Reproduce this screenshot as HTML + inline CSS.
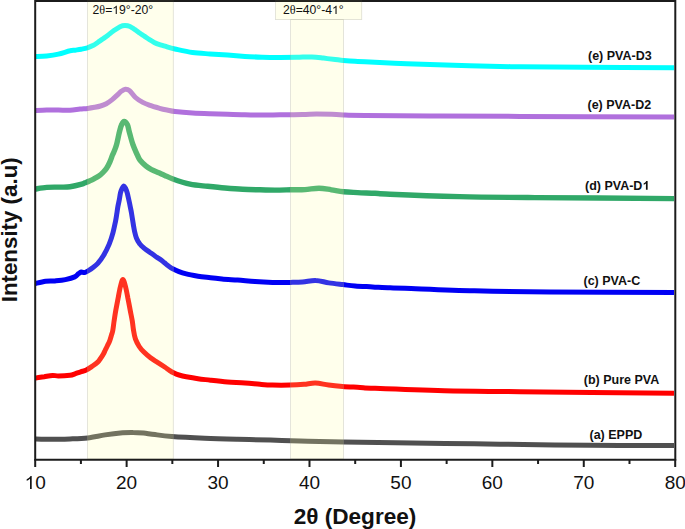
<!DOCTYPE html>
<html><head><meta charset="utf-8"><style>
html,body{margin:0;padding:0;background:#fff;}
svg{display:block;}
text{font-family:"Liberation Sans",sans-serif;fill:#111;}
.tk{font-size:19px;}
.lb{font-size:12.5px;font-weight:bold;}
.bl{font-size:12.2px;}
.one{fill-opacity:0;}
</style></head><body>
<svg width="685" height="529" viewBox="0 0 685 529">
<rect width="685" height="529" fill="#fff"/>
<clipPath id="pc"><rect x="36" y="1.5" width="638" height="457"/></clipPath>
<g clip-path="url(#pc)">
<path d="M35.0,438.9 C37.9,439.0 46.7,439.3 52.5,439.3 C58.3,439.3 64.2,439.1 70.0,438.9 C75.8,438.7 81.8,438.6 87.6,437.9 C93.4,437.2 99.3,435.8 105.1,434.9 C110.9,434.0 117.9,433.2 122.6,432.8 C127.3,432.4 129.6,432.3 133.1,432.4 C136.6,432.4 139.9,432.7 143.6,433.1 C147.2,433.5 150.3,434.1 155.0,434.6 C159.7,435.2 163.6,435.8 171.9,436.4 C180.2,437.0 193.8,437.7 204.7,438.2 C215.6,438.7 226.7,439.0 237.6,439.3 C248.5,439.6 260.0,439.8 270.4,440.1 C280.8,440.4 287.9,440.7 300.0,441.0 C312.1,441.3 319.0,441.5 343.2,441.9 C367.4,442.3 418.9,443.0 445.0,443.4 C471.1,443.8 475.8,443.9 500.0,444.2 C524.2,444.5 561.0,445.1 590.0,445.3 C619.0,445.5 660.0,445.6 674.0,445.6" fill="none" stroke="#505050" stroke-width="5" stroke-linejoin="round" stroke-linecap="butt"/>
<path d="M35.0,378.1 C36.5,377.9 41.4,377.1 44.3,376.7 C47.2,376.2 50.1,375.5 52.5,375.4 C54.9,375.3 55.5,375.9 58.4,375.9 C61.3,375.9 67.2,375.6 70.0,375.3 C72.8,375.0 73.2,374.4 75.0,373.8 C76.8,373.2 78.8,372.4 80.7,371.8 C82.6,371.2 84.4,371.0 86.3,370.1 C88.2,369.2 90.1,367.7 92.0,366.4 C93.9,365.1 96.3,363.5 97.7,362.2 C99.1,360.9 99.5,359.9 100.5,358.5 C101.5,357.1 102.6,355.4 103.4,354.0 C104.2,352.6 104.6,351.4 105.3,350.0 C106.0,348.6 106.7,347.3 107.4,345.8 C108.1,344.3 109.0,342.6 109.7,340.8 C110.4,339.0 111.0,336.7 111.5,335.0 C112.0,333.3 112.4,332.7 112.8,330.4 C113.2,328.1 113.6,324.4 114.1,321.0 C114.6,317.6 115.2,313.5 115.9,309.7 C116.6,305.9 117.4,302.1 118.1,298.3 C118.8,294.5 119.5,290.1 120.3,287.0 C121.1,283.9 122.0,279.6 122.9,279.6 C123.8,279.6 124.8,283.9 125.6,287.0 C126.4,290.1 127.2,294.5 127.9,298.3 C128.7,302.1 129.4,306.0 130.1,309.7 C130.8,313.4 131.6,317.2 132.2,320.5 C132.8,323.8 132.9,326.4 133.4,329.5 C133.9,332.6 134.4,336.1 135.4,338.9 C136.4,341.7 137.8,344.3 139.2,346.5 C140.6,348.7 142.0,350.2 143.9,352.1 C145.8,354.0 148.3,356.1 150.5,357.8 C152.7,359.5 154.7,360.6 157.1,362.1 C159.5,363.6 162.6,365.6 164.7,367.0 C166.8,368.4 167.9,369.3 169.4,370.3 C170.9,371.3 171.9,372.0 173.5,372.8 C175.1,373.6 176.9,374.4 179.0,375.0 C181.1,375.6 183.1,376.1 186.3,376.7 C189.5,377.3 194.0,378.1 198.0,378.7 C202.0,379.3 205.6,379.6 210.5,380.2 C215.4,380.8 221.8,381.6 227.6,382.0 C233.4,382.4 239.7,382.5 245.1,382.9 C250.5,383.3 255.4,383.9 260.0,384.3 C264.6,384.7 267.5,385.0 272.5,385.1 C277.5,385.2 284.8,385.2 290.0,385.1 C295.2,385.0 299.8,384.7 304.0,384.3 C308.2,383.9 311.3,382.9 315.4,383.0 C319.5,383.1 324.1,384.5 328.6,385.1 C333.1,385.7 337.4,386.1 342.6,386.5 C347.9,386.9 354.7,387.1 360.1,387.4 C365.5,387.7 360.9,387.7 375.0,388.3 C389.1,388.9 420.2,390.2 444.4,390.8 C468.6,391.4 481.7,391.3 520.0,391.7 C558.3,392.1 648.3,393.0 674.0,393.3" fill="none" stroke="#ff0000" stroke-width="5" stroke-linejoin="round" stroke-linecap="butt"/>
<path d="M35.0,283.6 C36.8,283.2 42.3,281.8 45.6,281.3 C48.9,280.9 51.5,281.2 54.8,280.9 C58.1,280.6 62.1,280.3 65.4,279.6 C68.7,278.9 72.5,277.9 74.7,276.9 C76.9,275.9 77.5,274.4 78.6,273.6 C79.7,272.8 80.3,272.2 81.3,272.0 C82.3,271.8 83.5,272.8 84.6,272.6 C85.7,272.4 86.5,271.9 87.9,271.0 C89.3,270.1 91.3,268.8 93.0,267.5 C94.7,266.2 96.0,265.4 97.8,263.4 C99.5,261.4 101.6,258.7 103.5,255.5 C105.4,252.3 107.6,247.9 109.2,244.1 C110.8,240.3 112.0,236.5 113.0,232.7 C114.0,228.9 114.8,224.7 115.5,221.4 C116.2,218.1 116.5,215.6 116.9,213.1 C117.3,210.6 117.5,208.7 117.9,206.5 C118.3,204.3 118.9,202.0 119.3,199.8 C119.7,197.6 120.0,195.1 120.4,193.2 C120.9,191.3 121.4,189.8 122.0,188.6 C122.6,187.4 123.3,186.0 123.9,186.0 C124.5,186.0 125.1,187.4 125.7,188.6 C126.3,189.8 126.8,191.3 127.3,193.2 C127.8,195.1 128.3,197.6 128.8,199.8 C129.3,202.0 129.8,204.3 130.2,206.5 C130.6,208.7 131.0,210.0 131.5,213.1 C132.0,216.2 132.9,222.0 133.4,225.0 C133.9,228.0 134.0,228.8 134.5,231.0 C135.0,233.2 135.5,235.8 136.4,237.9 C137.3,240.1 138.5,242.2 139.8,243.9 C141.1,245.7 142.8,247.0 144.4,248.4 C146.1,249.8 147.9,250.9 149.7,252.2 C151.5,253.5 153.2,254.8 155.0,256.0 C156.8,257.2 158.6,258.3 160.2,259.4 C161.8,260.5 163.1,261.7 164.5,262.8 C165.9,263.9 167.1,265.0 168.5,266.0 C169.9,267.0 170.9,267.8 172.7,268.7 C174.4,269.6 176.7,270.7 179.0,271.6 C181.3,272.5 183.1,273.1 186.3,273.9 C189.5,274.7 194.0,275.5 198.0,276.2 C202.0,276.9 206.5,277.3 210.5,277.8 C214.5,278.3 217.5,278.6 222.0,279.0 C226.5,279.4 232.1,279.7 237.6,280.1 C243.1,280.5 249.2,281.1 255.0,281.5 C260.8,281.9 266.8,282.2 272.6,282.4 C278.5,282.5 285.1,282.5 290.1,282.4 C295.1,282.3 298.2,282.3 302.5,282.0 C306.8,281.7 311.3,280.2 315.7,280.4 C320.1,280.5 324.3,282.2 328.8,282.9 C333.3,283.6 338.4,284.1 342.8,284.6 C347.2,285.1 350.1,285.6 355.1,286.0 C360.1,286.4 366.8,286.6 372.6,286.9 C378.4,287.2 384.7,287.6 390.1,287.8 C395.5,288.0 390.9,287.8 405.0,288.3 C419.1,288.8 450.2,290.2 474.4,290.8 C498.6,291.4 516.7,291.8 550.0,292.1 C583.3,292.4 653.3,292.4 674.0,292.5" fill="none" stroke="#0000f4" stroke-width="5" stroke-linejoin="round" stroke-linecap="butt"/>
<path d="M35.0,189.1 C37.0,188.8 42.8,187.7 46.7,187.4 C50.6,187.1 54.5,187.2 58.4,187.1 C62.3,187.0 66.1,187.3 70.0,186.8 C73.9,186.3 79.2,184.9 81.7,184.2 C84.2,183.5 83.7,183.3 85.0,182.8 C86.3,182.3 88.0,181.7 89.5,181.0 C91.0,180.3 92.3,179.7 93.9,178.8 C95.5,177.9 97.7,176.7 99.2,175.7 C100.7,174.7 101.6,173.8 102.8,172.6 C104.0,171.4 105.2,170.4 106.4,168.6 C107.6,166.8 108.9,164.2 109.9,161.9 C110.9,159.6 111.8,156.7 112.6,154.8 C113.4,152.9 113.9,152.0 114.6,150.3 C115.3,148.6 116.0,146.6 116.6,144.5 C117.2,142.4 117.6,140.1 118.1,137.9 C118.6,135.7 119.0,133.4 119.6,131.2 C120.2,129.0 120.8,126.4 121.6,124.8 C122.3,123.2 123.1,121.4 124.1,121.4 C125.1,121.4 126.6,123.0 127.4,124.6 C128.2,126.2 128.5,129.0 129.1,131.2 C129.7,133.4 130.3,135.7 130.9,137.9 C131.5,140.1 132.1,142.3 132.9,144.5 C133.7,146.7 134.8,149.3 135.6,151.1 C136.4,152.9 136.8,154.0 137.6,155.5 C138.3,157.0 138.7,158.5 140.1,160.2 C141.5,161.9 143.9,164.3 145.8,165.9 C147.7,167.5 149.4,168.6 151.5,169.7 C153.6,170.8 155.9,171.6 158.1,172.5 C160.3,173.4 162.3,174.4 164.7,175.4 C167.1,176.4 168.1,177.2 172.3,178.7 C176.5,180.2 184.1,182.9 190.0,184.2 C195.9,185.5 201.8,185.7 207.6,186.3 C213.4,186.9 219.2,187.5 225.0,188.0 C230.8,188.5 236.8,189.0 242.6,189.3 C248.4,189.6 254.6,189.7 260.0,189.8 C265.4,189.9 269.8,190.1 275.0,190.1 C280.2,190.1 286.0,189.9 291.0,189.8 C296.0,189.7 300.3,189.9 305.0,189.6 C309.7,189.3 314.6,188.2 319.0,188.2 C323.4,188.2 327.2,189.2 331.3,189.8 C335.4,190.4 339.2,191.2 343.6,191.7 C348.0,192.2 352.4,192.3 357.6,192.6 C362.9,192.9 369.7,193.0 375.1,193.3 C380.5,193.6 375.9,193.6 390.0,194.2 C404.1,194.8 435.2,196.0 459.4,196.6 C483.6,197.2 499.2,197.3 535.0,197.6 C570.8,197.9 650.8,198.4 674.0,198.6" fill="none" stroke="#30a868" stroke-width="5.4" stroke-linejoin="round" stroke-linecap="butt"/>
<path d="M35.0,110.6 C37.0,110.5 42.8,110.2 46.7,110.1 C50.6,110.0 54.5,110.1 58.4,110.1 C62.3,110.1 66.4,110.4 70.0,110.2 C73.6,110.0 77.1,109.3 80.0,109.0 C82.9,108.7 85.2,108.7 87.6,108.4 C90.0,108.1 92.4,107.7 94.6,107.3 C96.8,106.9 98.5,106.6 100.5,106.0 C102.5,105.4 104.3,104.8 106.3,103.7 C108.2,102.6 110.3,101.1 112.2,99.6 C114.1,98.1 115.9,96.3 117.4,94.9 C118.9,93.5 119.9,92.2 121.2,91.3 C122.5,90.4 123.9,89.4 125.3,89.3 C126.7,89.2 127.8,89.2 129.5,90.6 C131.2,92.0 133.3,95.5 135.5,97.5 C137.7,99.5 140.4,101.1 142.8,102.4 C145.2,103.7 147.3,104.4 150.1,105.4 C152.9,106.4 156.8,107.5 159.6,108.3 C162.4,109.1 164.4,109.5 167.0,110.0 C169.6,110.5 170.8,111.1 175.0,111.6 C179.2,112.1 186.7,112.7 192.5,113.0 C198.3,113.3 204.2,113.5 210.0,113.7 C215.8,113.9 221.8,114.1 227.6,114.3 C233.4,114.5 239.2,114.7 245.0,114.8 C250.8,114.9 256.8,115.1 262.6,115.1 C268.4,115.1 273.4,114.9 280.0,114.8 C286.6,114.7 296.4,114.8 302.5,114.6 C308.6,114.4 311.6,114.0 316.5,113.9 C321.4,113.9 327.2,114.1 331.7,114.3 C336.2,114.5 337.8,114.7 343.4,114.9 C348.9,115.1 350.6,115.2 365.0,115.4 C379.4,115.6 404.2,115.7 430.0,115.9 C455.8,116.1 479.3,116.2 520.0,116.4 C560.7,116.6 648.3,116.9 674.0,117.0" fill="none" stroke="#b070dd" stroke-width="5" stroke-linejoin="round" stroke-linecap="butt"/>
<path d="M35.0,56.5 C37.0,56.4 42.8,56.3 46.7,55.9 C50.6,55.5 54.5,55.0 58.4,54.1 C62.3,53.2 67.2,51.4 70.0,50.8 C72.8,50.1 73.2,50.5 75.0,50.2 C76.8,49.9 79.0,49.6 81.1,49.2 C83.1,48.8 85.2,48.5 87.3,47.9 C89.3,47.2 91.6,46.2 93.4,45.3 C95.2,44.3 96.4,43.3 98.0,42.2 C99.6,41.1 101.3,40.0 103.0,38.8 C104.7,37.6 106.3,36.5 108.0,35.2 C109.7,34.0 111.0,32.7 113.0,31.3 C115.0,29.9 118.0,27.6 120.0,26.7 C122.0,25.8 123.3,25.6 125.0,25.6 C126.7,25.6 128.3,25.8 130.0,26.5 C131.7,27.2 133.3,28.6 135.0,29.7 C136.7,30.8 138.4,32.2 140.0,33.3 C141.6,34.4 143.1,35.3 144.7,36.4 C146.3,37.5 147.9,38.7 149.5,39.7 C151.1,40.7 152.6,41.6 154.2,42.4 C155.8,43.2 157.1,43.8 158.9,44.4 C160.7,45.0 162.3,45.4 165.0,46.2 C167.7,47.0 170.4,48.0 175.0,49.0 C179.6,50.0 186.7,51.7 192.5,52.5 C198.3,53.3 204.2,53.5 210.0,53.9 C215.8,54.3 221.8,54.7 227.6,55.1 C233.4,55.5 239.2,56.0 245.0,56.4 C250.8,56.8 256.8,57.0 262.6,57.2 C268.4,57.4 274.3,57.4 280.0,57.4 C285.7,57.4 291.4,57.4 296.7,57.3 C302.0,57.2 307.4,56.8 311.9,56.9 C316.4,57.0 319.6,57.6 323.5,58.1 C327.4,58.6 331.9,59.2 335.2,59.6 C338.5,60.0 340.1,60.1 343.4,60.4 C346.7,60.7 351.4,61.1 355.0,61.3 C358.6,61.5 356.4,61.3 365.0,61.7 C373.6,62.1 391.9,63.1 406.7,63.7 C421.4,64.3 437.9,64.8 453.5,65.3 C469.1,65.8 488.9,66.3 500.0,66.5 C511.1,66.7 505.8,66.6 520.0,66.7 C534.2,66.8 559.3,67.1 585.0,67.3 C610.7,67.5 659.2,67.7 674.0,67.8" fill="none" stroke="#00ffff" stroke-width="5" stroke-linejoin="round" stroke-linecap="butt"/>

</g>
<line x1="35" y1="1" x2="676" y2="1" stroke="#1c1c1c" stroke-width="2.2"/>
<rect x="87.6" y="0" width="85.7" height="459" fill="rgba(255,255,160,0.2)" stroke="rgba(160,160,145,0.35)" stroke-width="0.8"/>
<rect x="290.6" y="19.6" width="52.8" height="439.4" fill="rgba(255,255,160,0.2)" stroke="rgba(160,160,145,0.35)" stroke-width="0.8"/>
<rect x="275.5" y="0" width="86.2" height="19.6" fill="rgba(255,255,160,0.2)" stroke="rgba(160,160,145,0.35)" stroke-width="0.8"/>
<line x1="35" y1="1" x2="676" y2="1" stroke="#1c1c1c" stroke-opacity="0.8" stroke-width="2.2"/>
<text x="92.5" y="14.1" class="bl">2<tspan style="font-family:'Liberation Serif'">θ</tspan>=<tspan class="one">1</tspan>9°-20°</text>
<text x="283" y="14.1" class="bl">2<tspan style="font-family:'Liberation Serif'">θ</tspan>=40°-4<tspan class="one">1</tspan>°</text>
<text x="588" y="60" class="lb">(e) PVA-D3</text>
<text x="587.5" y="109.3" class="lb">(e) PVA-D2</text>
<text x="585" y="189.7" class="lb">(d) PVA-D<tspan class="one">1</tspan></text>
<text x="583.5" y="285.4" class="lb">(c) PVA-C</text>
<text x="583.8" y="383.8" class="lb">(b) Pure PVA</text>
<text x="589.5" y="439" class="lb">(a) EPPD</text>
<path d="M35.2,0 V459.8 H675.3 V0" fill="none" stroke="#1c1c1c" stroke-width="2"/>
<line x1="35.20" y1="459" x2="35.20" y2="467" stroke="#1c1c1c" stroke-width="2"/><line x1="80.91" y1="459" x2="80.91" y2="464" stroke="#1c1c1c" stroke-width="2"/><line x1="126.63" y1="459" x2="126.63" y2="467" stroke="#1c1c1c" stroke-width="2"/><line x1="172.34" y1="459" x2="172.34" y2="464" stroke="#1c1c1c" stroke-width="2"/><line x1="218.06" y1="459" x2="218.06" y2="467" stroke="#1c1c1c" stroke-width="2"/><line x1="263.77" y1="459" x2="263.77" y2="464" stroke="#1c1c1c" stroke-width="2"/><line x1="309.49" y1="459" x2="309.49" y2="467" stroke="#1c1c1c" stroke-width="2"/><line x1="355.20" y1="459" x2="355.20" y2="464" stroke="#1c1c1c" stroke-width="2"/><line x1="400.91" y1="459" x2="400.91" y2="467" stroke="#1c1c1c" stroke-width="2"/><line x1="446.63" y1="459" x2="446.63" y2="464" stroke="#1c1c1c" stroke-width="2"/><line x1="492.34" y1="459" x2="492.34" y2="467" stroke="#1c1c1c" stroke-width="2"/><line x1="538.06" y1="459" x2="538.06" y2="464" stroke="#1c1c1c" stroke-width="2"/><line x1="583.77" y1="459" x2="583.77" y2="467" stroke="#1c1c1c" stroke-width="2"/><line x1="629.49" y1="459" x2="629.49" y2="464" stroke="#1c1c1c" stroke-width="2"/><line x1="675.20" y1="459" x2="675.20" y2="467" stroke="#1c1c1c" stroke-width="2"/>
<text x="35.20" y="489" text-anchor="middle" class="tk"><tspan class="one">1</tspan>0</text><text x="126.63" y="489" text-anchor="middle" class="tk">20</text><text x="218.06" y="489" text-anchor="middle" class="tk">30</text><text x="309.49" y="489" text-anchor="middle" class="tk">40</text><text x="400.91" y="489" text-anchor="middle" class="tk">50</text><text x="492.34" y="489" text-anchor="middle" class="tk">60</text><text x="583.77" y="489" text-anchor="middle" class="tk">70</text><text x="675.20" y="489" text-anchor="middle" class="tk">80</text>
<text x="355" y="523.6" text-anchor="middle" style="font-size:22.6px;font-weight:bold">2θ (Degree)</text>
<text transform="translate(16.7,229.8) rotate(-90)" x="0" y="0" text-anchor="middle" style="font-size:22.3px;font-weight:bold">Intensity (a.u)</text>
<path transform="translate(112.25,14.10) scale(0.005957,-0.005957)" d="M583 0V1104Q518 1042 412 982Q306 922 223 893V1060Q374 1128 487 1225Q600 1322 647 1409H763V0Z" fill="#111"/><path transform="translate(332.02,14.10) scale(0.005957,-0.005957)" d="M583 0V1104Q518 1042 412 982Q306 922 223 893V1060Q374 1128 487 1225Q600 1322 647 1409H763V0Z" fill="#111"/><path transform="translate(642.41,189.70) scale(0.006104,-0.006104)" d="M856 0H575V1014Q421 876 212 810V1054Q322 1088 451 1184Q580 1281 628 1409H856Z" fill="#111"/><path transform="translate(24.62,489.00) scale(0.009277,-0.009277)" d="M583 0V1104Q518 1042 412 982Q306 922 223 893V1060Q374 1128 487 1225Q600 1322 647 1409H763V0Z" fill="#111"/>
</svg>
</body></html>
